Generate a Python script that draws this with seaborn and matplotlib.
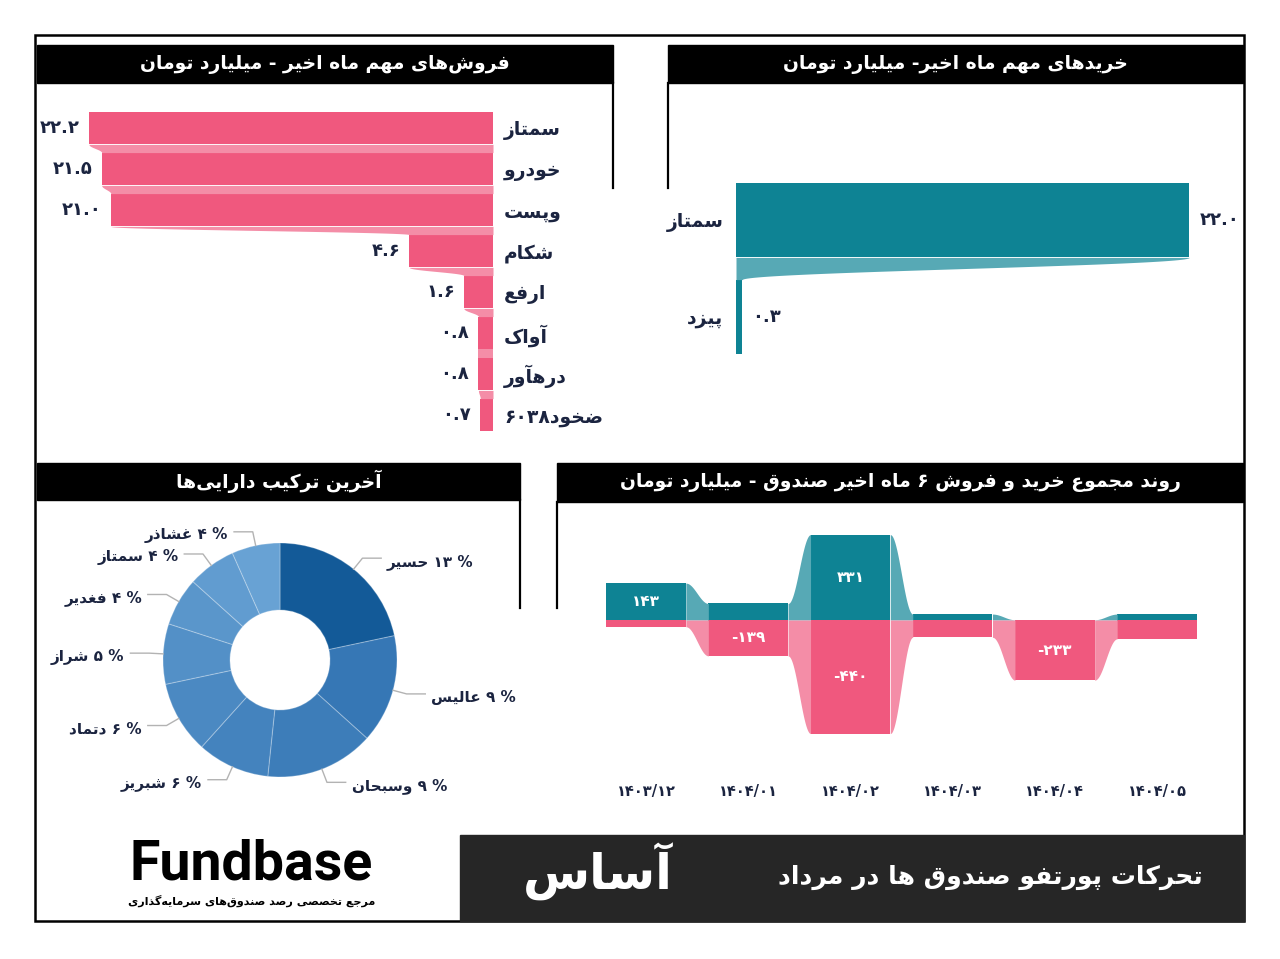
import re
import numpy as np
import matplotlib
matplotlib.use("Agg")
import matplotlib.pyplot as plt
from matplotlib.patches import Rectangle
import seaborn as sns

# data
sell_names = ['سمتاز', 'خودرو', 'وپست', 'شکام', 'ارفع', 'آواک', 'درهآور', 'ضخود۶۰۳۸']
sell_values = [22.2, 21.5, 21.0, 4.6, 1.6, 0.8, 0.8, 0.7]

buy_names = ['سمتاز', 'پیزد']
buy_values = [22.0, 0.3]

asset_names = ['حسیر', 'عالیس', 'وسبحان', 'شبریز', 'دتماد', 'شراز', 'فغدیر', 'سمتاز', 'غشاذر']
asset_pct = [13, 9, 9, 6, 6, 5, 4, 4, 4]

months = ['۱۴۰۳/۱۲', '۱۴۰۴/۰۱', '۱۴۰۴/۰۲', '۱۴۰۴/۰۳', '۱۴۰۴/۰۴', '۱۴۰۴/۰۵']
month_buy = [143, 64, 331, 23, 1, 23]
month_sell = [-26, -139, -440, -67, -233, -73]

PINK = '#f0587e'
PINK_L = '#f48da7'
TEAL = '#0e8394'
TEAL_L = '#57a9b5'
NAVY = '#1b2440'

# ---- minimal persian shaping (matplotlib has no bidi / joining) ----
FORMS = {
    '\u0621': ('\ufe80', None, None, None),
    '\u0622': ('\ufe81', '\ufe82', None, None),
    '\u0627': ('\ufe8d', '\ufe8e', None, None),
    '\u0628': ('\ufe8f', '\ufe90', '\ufe91', '\ufe92'),
    '\u067e': ('\ufb56', '\ufb57', '\ufb58', '\ufb59'),
    '\u062a': ('\ufe95', '\ufe96', '\ufe97', '\ufe98'),
    '\u062b': ('\ufe99', '\ufe9a', '\ufe9b', '\ufe9c'),
    '\u062c': ('\ufe9d', '\ufe9e', '\ufe9f', '\ufea0'),
    '\u0686': ('\ufb7a', '\ufb7b', '\ufb7c', '\ufb7d'),
    '\u062d': ('\ufea1', '\ufea2', '\ufea3', '\ufea4'),
    '\u062e': ('\ufea5', '\ufea6', '\ufea7', '\ufea8'),
    '\u062f': ('\ufea9', '\ufeaa', None, None),
    '\u0630': ('\ufeab', '\ufeac', None, None),
    '\u0631': ('\ufead', '\ufeae', None, None),
    '\u0632': ('\ufeaf', '\ufeb0', None, None),
    '\u0698': ('\ufb8a', '\ufb8b', None, None),
    '\u0633': ('\ufeb1', '\ufeb2', '\ufeb3', '\ufeb4'),
    '\u0634': ('\ufeb5', '\ufeb6', '\ufeb7', '\ufeb8'),
    '\u0635': ('\ufeb9', '\ufeba', '\ufebb', '\ufebc'),
    '\u0636': ('\ufebd', '\ufebe', '\ufebf', '\ufec0'),
    '\u0637': ('\ufec1', '\ufec2', '\ufec3', '\ufec4'),
    '\u0638': ('\ufec5', '\ufec6', '\ufec7', '\ufec8'),
    '\u0639': ('\ufec9', '\ufeca', '\ufecb', '\ufecc'),
    '\u063a': ('\ufecd', '\ufece', '\ufecf', '\ufed0'),
    '\u0641': ('\ufed1', '\ufed2', '\ufed3', '\ufed4'),
    '\u0642': ('\ufed5', '\ufed6', '\ufed7', '\ufed8'),
    '\u06a9': ('\ufb8e', '\ufb8f', '\ufb90', '\ufb91'),
    '\u0643': ('\ufed9', '\ufeda', '\ufedb', '\ufedc'),
    '\u06af': ('\ufb92', '\ufb93', '\ufb94', '\ufb95'),
    '\u0644': ('\ufedd', '\ufede', '\ufedf', '\ufee0'),
    '\u0645': ('\ufee1', '\ufee2', '\ufee3', '\ufee4'),
    '\u0646': ('\ufee5', '\ufee6', '\ufee7', '\ufee8'),
    '\u0647': ('\ufee9', '\ufeea', '\ufeeb', '\ufeec'),
    '\u0648': ('\ufeed', '\ufeee', None, None),
    '\u06cc': ('\ufbfc', '\ufbfd', '\ufbfe', '\ufbff'),
    '\u064a': ('\ufef1', '\ufef2', '\ufef3', '\ufef4'),
}
LAM_ALEF = {'\u0627': ('\ufefb', '\ufefc'), '\u0622': ('\ufef5', '\ufef6')}


def dual(c):
    return c in FORMS and FORMS[c][2] is not None


def joins(c):
    return c in FORMS and FORMS[c][1] is not None


def fa(s):
    out = []
    i = 0
    while i < len(s):
        c = s[i]
        if c not in FORMS:
            if c != '\u200c':
                out.append(c)
            i += 1
            continue
        jp = i > 0 and dual(s[i - 1])
        nxt = s[i + 1] if i + 1 < len(s) else ''
        if c == '\u0644' and nxt in LAM_ALEF:
            out.append(LAM_ALEF[nxt][1] if jp else LAM_ALEF[nxt][0])
            i += 2
            continue
        jn = dual(c) and joins(nxt)
        f = FORMS[c]
        if jp and jn:
            g = f[3]
        elif jp:
            g = f[1]
        elif jn:
            g = f[2]
        else:
            g = f[0]
        out.append(g)
        i += 1
    vis = ''.join(out)[::-1]
    # numbers stay left-to-right
    return re.sub(r'[0-9\u06f0-\u06f9./]+', lambda m: m.group(0)[::-1], vis)


def fa_num(v, fmt='{:.1f}'):
    return fmt.format(v).translate(str.maketrans('0123456789', '۰۱۲۳۴۵۶۷۸۹'))


plt.rcParams['font.family'] = ['DejaVu Sans']

W, H = 1280, 959
fig = plt.figure(figsize=(W / 100, H / 100), dpi=100, facecolor='white')


def px_axes(x0, y0, x1, y1):
    a = fig.add_axes([x0 / W, 1 - y1 / H, (x1 - x0) / W, (y1 - y0) / H])
    a.set_facecolor('none')
    return a


# background layer in pixel coordinates: frame, header bars, banner
bg = fig.add_axes([0, 0, 1, 1])
bg.set_xlim(0, W)
bg.set_ylim(H, 0)
bg.axis('off')

bg.add_patch(Rectangle((35, 35), 1209, 886, fill=False, ec='black', lw=1.8))
headers = [
    ((37, 45, 576, 38), 'فروش‌های مهم ماه اخیر - میلیارد تومان'),
    ((668, 45, 575, 38), 'خریدهای مهم ماه اخیر- میلیارد تومان'),
    ((37, 463, 483, 37), 'آخرین ترکیب دارایی‌ها'),
    ((557, 463, 686, 39), 'روند مجموع خرید و فروش ۶ ماه اخیر صندوق - میلیارد تومان'),
]
for (x, y, w, h), title in headers:
    bg.add_patch(Rectangle((x, y), w, h, color='black'))
    bg.text(x + w / 2, y + h / 2, fa(title), color='white', fontsize=13.5,
            fontweight='bold', ha='center', va='center')
for x, y0, y1 in [(613, 83, 188), (668, 83, 188), (520, 500, 608), (557, 502, 608)]:
    bg.plot([x, x], [y0, y1], color='black', lw=1.6)

bg.add_patch(Rectangle((460, 835), 784, 86, color='#262626'))
bg.text(1203, 877, fa('تحرکات پورتفو صندوق ها در مرداد'), color='white',
        fontsize=18, fontweight='bold', ha='right', va='center')
bg.text(598, 872, fa('آساس'), color='white', fontsize=35, fontweight='bold',
        ha='center', va='center')
bg.text(251, 864, 'Fundbase', color='black', fontsize=40, fontweight='bold',
        family='Roboto', ha='center', va='center')
bg.text(252, 901, fa('مرجع تخصصی رصد صندوق‌های سرمایه‌گذاری'), color='black',
        fontsize=8, fontweight='bold', ha='center', va='center')

t = np.linspace(0, 1, 60)
ease = 0.5 - 0.5 * np.cos(np.pi * t)

# ---- sales (top left) ----
ax1 = px_axes(40, 107.5, 493, 435.5)
sns.barplot(x=sell_values, y=[fa(n) for n in sell_names], orient='h', color=PINK,
            width=0.8, saturation=1, linewidth=0, ax=ax1)
for i in range(len(sell_values) - 1):
    xx = sell_values[i] + (sell_values[i + 1] - sell_values[i]) * ease
    ax1.fill_betweenx(i + 0.4 + 0.2 * t, 0, xx, color=PINK_L, lw=0)
for i, v in enumerate(sell_values):
    ax1.text(v + 0.5, i, fa_num(v), ha='right', va='center', color=NAVY,
             fontsize=13, fontweight='bold')
ax1.set_xlim(453 / 18.2, 0)
ax1.set_ylim(7.5, -0.5)
ax1.yaxis.tick_right()
ax1.tick_params(axis='y', length=0, pad=8, labelsize=13.5, labelcolor=NAVY)
ax1.tick_params(axis='x', bottom=False, labelbottom=False)
for lab in ax1.get_yticklabels():
    lab.set_fontweight('bold')
ax1.set_xlabel('')
ax1.set_ylabel('')
sns.despine(ax=ax1, left=True, bottom=True)

# ---- purchases (top right) ----
ax2 = px_axes(736, 172, 1240, 365)
sns.barplot(x=buy_values, y=[fa(n) for n in buy_names], orient='h', color=TEAL,
            width=0.77, saturation=1, linewidth=0, ax=ax2)
for i in range(len(buy_values) - 1):
    xx = buy_values[i] + (buy_values[i + 1] - buy_values[i]) * ease
    ax2.fill_betweenx(i + 0.385 + 0.23 * t, 0, xx, color=TEAL_L, lw=0)
for i, v in enumerate(buy_values):
    ax2.text(v + 0.5, i, fa_num(v), ha='left', va='center', color=NAVY,
             fontsize=13, fontweight='bold')
ax2.set_xlim(0, 504 / 20.6)
ax2.set_ylim(1.5, -0.5)
ax2.tick_params(axis='y', length=0, pad=9, labelsize=13.5, labelcolor=NAVY)
ax2.tick_params(axis='x', bottom=False, labelbottom=False)
for lab in ax2.get_yticklabels():
    lab.set_fontweight('bold')
ax2.set_xlabel('')
ax2.set_ylabel('')
sns.despine(ax=ax2, left=True, bottom=True)

# ---- asset mix donut (bottom left) ----
ax3 = px_axes(40, 505, 520, 830)
pie_colors = ['#135a98'] + sns.blend_palette(['#3677b5', '#68a2d4'], len(asset_pct) - 1)
wedges, _ = ax3.pie(asset_pct, colors=pie_colors, startangle=90, counterclock=False,
                    radius=1, wedgeprops=dict(width=0.573, edgecolor=(1, 1, 1, 0.25), linewidth=0.8))
for w, name, p in zip(wedges, asset_names, asset_pct):
    ang = np.deg2rad((w.theta1 + w.theta2) / 2)
    cx, cy = np.cos(ang), np.sin(ang)
    side = 1 if cx >= 0 else -1
    ex, ey = 1.12 * cx, 1.12 * cy
    hx = ex + side * 0.16
    ax3.plot([cx, ex, hx], [cy, ey, ey], color='#b3b3b3', lw=1)
    ax3.text(hx + side * 0.05, ey - 0.03, fa('% ' + fa_num(p, '{:d}') + ' ' + name),
             ha='left' if side > 0 else 'right', va='center', color=NAVY,
             fontsize=11, fontweight='bold')
ax3.set_xlim(-240 / 117, 240 / 117)
ax3.set_ylim(-170 / 117, 155 / 117)
ax3.set_aspect('auto')
ax3.axis('off')

# ---- six month trend (bottom right) ----
ax4 = px_axes(557, 505, 1243, 776)
sns.barplot(x=months, y=month_buy, color=TEAL, width=0.78, saturation=1, linewidth=0, ax=ax4)
sns.barplot(x=months, y=month_sell, color=PINK, width=0.78, saturation=1, linewidth=0, ax=ax4)
for i in range(len(months) - 1):
    xx = i + 0.39 + 0.22 * t
    for vals, col in ((month_buy, TEAL_L), (month_sell, PINK_L)):
        ax4.fill_between(xx, 0, vals[i] + (vals[i + 1] - vals[i]) * ease, color=col, lw=0)
for i, (b, s) in enumerate(zip(month_buy, month_sell)):
    for v in (b, s):
        if abs(v) >= 100:
            ax4.text(i, v / 2, fa_num(v, '{:d}'), ha='center', va='center',
                     color='white', fontsize=11, fontweight='bold')
ax4.set_xlim((557 - 646) / 102.2, (1243 - 646) / 102.2)
ax4.set_ylim((620 - 776) / 0.258, (620 - 505) / 0.258)
ax4.tick_params(axis='x', length=0, pad=6, labelsize=10.5, labelcolor=NAVY)
ax4.tick_params(axis='y', left=False, labelleft=False)
for lab in ax4.get_xticklabels():
    lab.set_fontweight('bold')
ax4.set_xlabel('')
ax4.set_ylabel('')
sns.despine(ax=ax4, left=True, bottom=True)

fig.savefig('out.png', dpi=100)
